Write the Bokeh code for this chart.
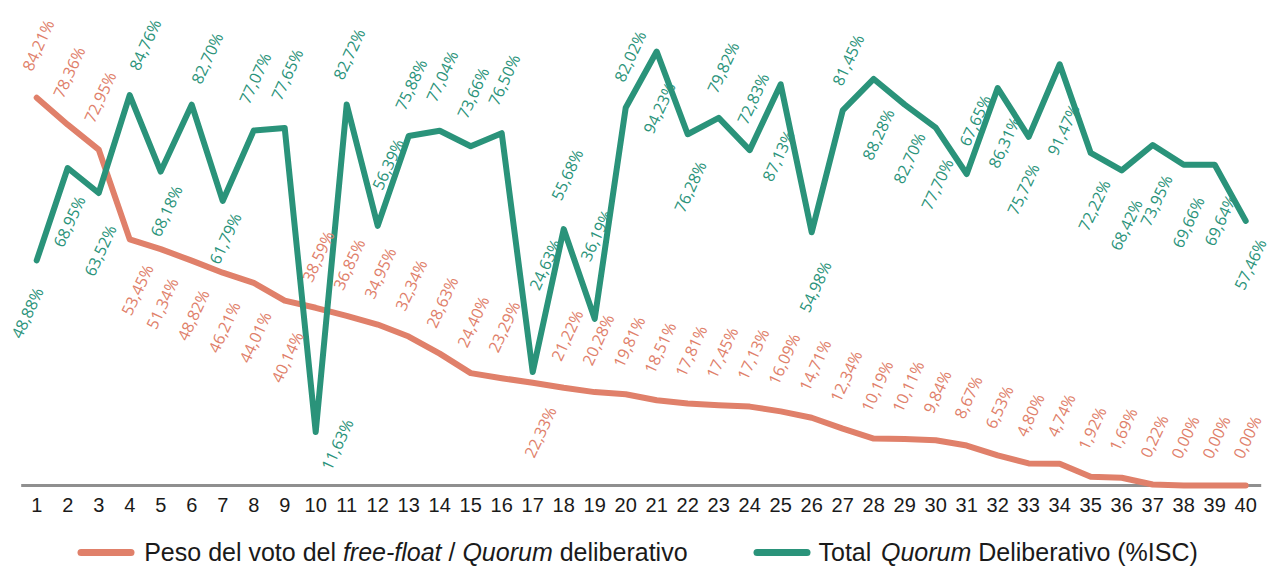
import math
from bokeh.plotting import figure
from bokeh.models import Range1d, FixedTicker, ColumnDataSource
from bokeh.layouts import column
from bokeh.core.properties import value
from bokeh.embed import file_html
from bokeh.resources import INLINE

# ---------------- data ----------------
categories = list(range(1, 41))

peso_free_float = [84.21, 78.36, 72.95, 53.45, 51.34, 48.82, 46.21, 44.01, 40.14, 38.59,
                   36.85, 34.95, 32.34, 28.63, 24.40, 23.29, 22.33, 21.22, 20.28, 19.81,
                   18.51, 17.81, 17.45, 17.13, 16.09, 14.71, 12.34, 10.19, 10.11, 9.84,
                   8.67, 6.53, 4.80, 4.74, 1.92, 1.69, 0.22, 0.00, 0.00, 0.00]

total_quorum = [48.88, 68.95, 63.52, 84.76, 68.18, 82.70, 61.79, 77.07, 77.65, 11.63,
                82.72, 56.39, 75.88, 77.04, 73.66, 76.50, 24.63, 55.68, 36.19, 82.02,
                94.23, 76.28, 79.82, 72.83, 87.13, 54.98, 81.45, 88.28, 82.70, 77.70,
                67.65, 86.31, 75.72, 91.47, 72.22, 68.42, 73.95, 69.66, 69.64, 57.46]

# ---------------- label placement (a = above, b = below) ----------------
peso_side = ["a", "a", "a", "b", "b", "b", "b", "b", "b", "a",
             "a", "a", "a", "a", "a", "a", "b", "a", "a", "a",
             "a", "a", "a", "a", "a", "a", "a", "a", "a", "a",
             "a", "a", "a", "a", "a", "a", "a", "a", "a", "a"]
peso_dx = [-10, -10, -10, 19, 13, 13, 13, 13, 14, -9,
           -9, -9, -9, -9, -9, -9, 19, -8, -8, -8,
           -8, -8, -8, -8, -8, -8, -8, -8, -8, -8,
           -8, -8, -8, -8, -8, -8, -8, -8, -8, -8]
peso_dy = [-28, -28, -28, 26, 30, 30, 30, 30, 32, -27,
           -27, -27, -27, -27, -27, -27, 25, -28, -28, -28,
           -28, -28, -28, -28, -28, -28, -28, -28, -28, -28,
           -28, -28, -28, -28, -28, -28, -28, -28, -28, -28]

quorum_side = ["b", "b", "b", "a", "b", "a", "b", "a", "a", "b",
               "a", "a", "a", "a", "a", "a", "a", "a", "a", "a",
               "b", "b", "a", "a", "b", "b", "a", "b", "b", "b",
               "a", "b", "b", "b", "b", "b", "b", "b", "b", "b"]
quorum_dx = [2, 13, 13, 4, 17, 4, 14, -10, -9, 33,
             -9, -1, -9, -9, -9, -9, 1, -8, -10, -7,
             14, 14, -7, -8, 9, 15, -6, 16, 16, 13,
             -3, 18, 6, 15, 15, 16, 15, 16, 17, 16]
quorum_dy = [28, 29, 33, -26, 15, -22, 13, -28, -29, -12,
             -26, -37, -27, -30, -29, -29, -83, -30, -59, -27,
             32, 28, -26, -27, 47, 30, -26, 31, 29, 32,
             -29, 30, 28, 41, 28, 30, 31, 33, 31, 19]

ORANGE = "#E0806A"
GREEN = "#2A937A"
ANGLE = math.radians(65)
LABEL_FONT = value("Open Sans")


def fmt(v):
    return ("%.2f" % v).replace(".", ",") + "%"


p = figure(width=1271, height=523,
           x_range=Range1d(-0.1677, 40.832), y_range=Range1d(-0.87, 105.32),
           output_backend="svg", toolbar_location=None,
           min_border_left=0, min_border_right=0, min_border_top=0, min_border_bottom=34,
           y_axis_location=None)
p.outline_line_color = None
p.background_fill_color = "white"
p.xgrid.visible = False
p.ygrid.visible = False

# baseline along the category span
p.line(x=[categories[0] - 0.5, categories[-1] + 0.5], y=[0, 0],
       line_color="#8F8F8F", line_width=3)

p.line(x=categories, y=peso_free_float, line_color=ORANGE, line_width=6,
       line_join="round", line_cap="round")
p.line(x=categories, y=total_quorum, line_color=GREEN, line_width=6,
       line_join="round", line_cap="round")


def add_labels(vals, side, dx, dy, color):
    for s, align in (("a", "left"), ("b", "right")):
        idx = [i for i in range(len(vals)) if side[i] == s]
        src = ColumnDataSource(dict(
            x=[categories[i] for i in idx],
            y=[vals[i] for i in idx],
            t=[fmt(vals[i]) for i in idx],
            dx=[dx[i] for i in idx],
            dy=[dy[i] for i in idx],
        ))
        p.text(x="x", y="y", text="t", source=src, angle=ANGLE,
               x_offset="dx", y_offset="dy",
               text_align=align, text_baseline="middle",
               text_font=LABEL_FONT, text_font_size="16px", text_color=color)


add_labels(peso_free_float, peso_side, peso_dx, peso_dy, ORANGE)
add_labels(total_quorum, quorum_side, quorum_dx, quorum_dy, GREEN)

ax = p.xaxis[0]
ax.ticker = FixedTicker(ticks=categories)
ax.axis_line_color = None
ax.major_tick_line_color = None
ax.minor_tick_line_color = None
ax.major_label_text_font = "Liberation Sans"
ax.major_label_text_font_size = "20px"
ax.major_label_text_color = "#1A1A1A"
ax.major_label_standoff = 2

# ---------------- legend (manual, mixed italic) ----------------
pl = figure(width=1271, height=51, x_range=Range1d(0, 1271), y_range=Range1d(0, 51),
            output_backend="svg", toolbar_location=None, min_border=0,
            x_axis_location=None, y_axis_location=None)
pl.outline_line_color = None
pl.xgrid.visible = False
pl.ygrid.visible = False

pl.segment(x0=[80.5, 756.5], y0=[22, 22], x1=[130.5, 806.5], y1=[22, 22],
           line_color=[ORANGE, GREEN], line_width=7, line_cap="round")

leg_parts = [
    ("Peso del voto del", "normal", 143.7),
    ("free-float", "italic", 342.4),
    ("/", "normal", 448.0),
    ("Quorum", "italic", 461.9),
    ("deliberativo", "normal", 559.2),
    ("Total", "normal", 818.0),
    ("Quorum", "italic", 880.5),
    ("Deliberativo (%ISC)", "normal", 977.8),
]
for txt, style, xpos in leg_parts:
    pl.text(x=[xpos], y=[23], text=[txt], text_font=value("Liberation Sans"),
            text_font_size="25px", text_font_style=style, text_color="#1A1A1A",
            text_align="left", text_baseline="middle")

layout = column(p, pl, spacing=0)
open("out.html", "w").write(file_html(layout, INLINE))
